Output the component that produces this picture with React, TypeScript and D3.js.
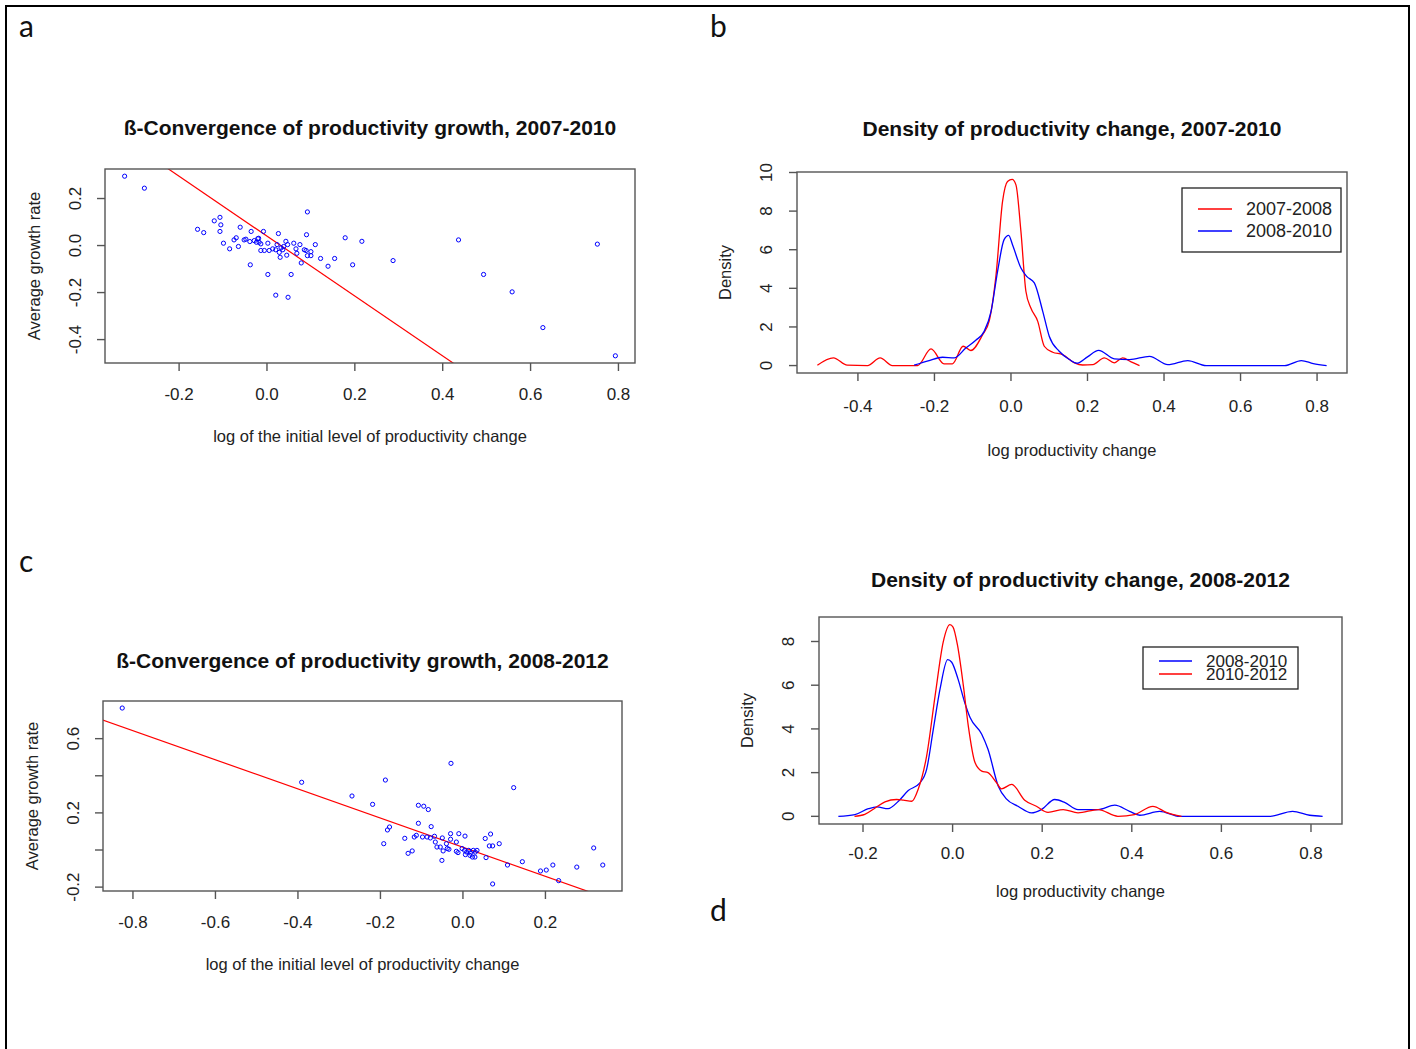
import React from "react";
import * as d3 from "d3";

// ---- panel a: beta-convergence 2007-2010, [initial level, avg growth]
const convA: [number, number][] = [
  [-0.324, 0.295], [-0.279, 0.244], [0.092, 0.143], [-0.107, 0.12], [-0.12, 0.105],
  [-0.105, 0.088], [-0.158, 0.069], [-0.144, 0.055], [-0.107, 0.06], [-0.061, 0.078],
  [-0.036, 0.06], [-0.008, 0.06], [0.026, 0.051], [0.09, 0.046], [0.178, 0.033],
  [0.216, 0.018], [-0.099, 0.01], [-0.085, -0.014], [-0.065, -0.004], [-0.075, 0.024],
  [-0.07, 0.033], [-0.052, 0.024], [-0.048, 0.027], [-0.039, 0.017], [-0.029, 0.021],
  [-0.021, 0.029], [-0.018, 0.014], [-0.014, 0.007], [0.002, 0.01], [0.023, 0.004],
  [0.043, 0.018], [0.047, 0.004], [0.061, 0.01], [0.075, 0.004], [0.11, 0.004],
  [-0.014, -0.021], [-0.006, -0.021], [0.005, -0.021], [0.013, -0.014], [0.02, -0.018],
  [0.028, -0.029], [0.036, -0.018], [0.066, -0.014], [0.068, -0.033], [0.085, -0.018],
  [0.089, -0.021], [0.1, -0.026], [0.092, -0.043], [0.1, -0.043], [0.045, -0.041],
  [0.03, -0.05], [0.122, -0.055], [0.154, -0.055], [0.078, -0.074], [0.139, -0.088],
  [0.195, -0.082], [0.287, -0.064], [-0.038, -0.082], [0.002, -0.123], [0.055, -0.123],
  [0.02, -0.211], [0.048, -0.22], [0.436, 0.024], [0.493, -0.123], [0.558, -0.197],
  [0.628, -0.349], [0.752, 0.006], [0.793, -0.469], [-0.024, 0.014], [-0.019, 0.031],
  [0.032, -0.01], [0.038, -0.004],
];
const fitA = { intercept: 0.04, slope: -1.274 };
const ticksAX = [-0.2, 0, 0.2, 0.4, 0.6, 0.8];
const ticksAY = [-0.4, -0.2, 0, 0.2];

// ---- panel c: beta-convergence 2008-2012
const convC: [number, number][] = [
  [-0.826, 0.765], [-0.391, 0.365], [-0.269, 0.291], [-0.219, 0.246], [-0.188, 0.377],
  [-0.029, 0.467], [0.123, 0.336], [-0.108, 0.241], [-0.095, 0.236], [-0.084, 0.218],
  [-0.108, 0.144], [-0.077, 0.126], [-0.178, 0.124], [-0.183, 0.108], [-0.192, 0.034],
  [-0.141, 0.063], [-0.118, 0.07], [-0.113, 0.079], [-0.133, -0.018], [-0.123, -0.005],
  [-0.098, 0.07], [-0.087, 0.07], [-0.079, 0.065], [-0.069, 0.074], [-0.067, 0.043],
  [-0.063, 0.016], [-0.055, 0.016], [-0.05, 0.065], [-0.048, -0.005], [-0.051, -0.056],
  [-0.04, 0.034], [-0.038, 0.008], [-0.034, 0.004], [-0.03, 0.088], [-0.03, 0.058],
  [-0.016, 0.043], [-0.01, 0.088], [0.005, 0.075], [-0.016, -0.007], [-0.012, -0.014],
  [-0.002, 0.008], [0.004, -0.002], [0.009, -0.011], [0.014, -0.002], [0.018, -0.016],
  [0.025, -0.002], [0.03, -0.011], [0.034, -0.002], [0.006, -0.025], [0.017, -0.029],
  [0.023, -0.038], [0.029, -0.038], [0.054, 0.062], [0.067, 0.086], [0.064, 0.022],
  [0.072, 0.022], [0.088, 0.034], [0.056, -0.041], [0.072, -0.183], [0.108, -0.081],
  [0.144, -0.063], [0.188, -0.113], [0.202, -0.108], [0.218, -0.081], [0.232, -0.165],
  [0.276, -0.092], [0.317, 0.011], [0.339, -0.081],
];
const fitC = { intercept: 0.015, slope: -0.785 };
const ticksCX = [-0.8, -0.6, -0.4, -0.2, 0, 0.2];
const ticksCY = [-0.2, 0, 0.2, 0.4, 0.6];
const labelsCY = [-0.2, 0.2, 0.6];

// ---- panel b: densities, [log change, density]
const dens0708: [number, number][] = [
  [-0.506, 0.02], [-0.464, 0.4], [-0.428, 0.02], [-0.375, 0], [-0.342, 0.4], [-0.31, 0],
  [-0.244, 0], [-0.209, 0.86], [-0.175, 0.09], [-0.153, 0.09], [-0.125, 1.0], [-0.105, 0.78],
  [-0.074, 1.6], [-0.057, 2.3], [-0.039, 4.7], [-0.022, 8.5], [-0.009, 9.53], [0.003, 9.64],
  [0.013, 9.36], [0.026, 6.95], [0.039, 3.85], [0.052, 2.98], [0.07, 2.29], [0.087, 1.0],
  [0.109, 0.69], [0.135, 0.57], [0.166, 0.14], [0.187, 0.03], [0.214, 0.05], [0.244, 0.4],
  [0.27, 0.14], [0.292, 0.4], [0.314, 0.19], [0.336, 0.0],
];
const dens0810b: [number, number][] = [
  [-0.253, 0.02], [-0.214, 0.26], [-0.179, 0.43], [-0.148, 0.4], [-0.118, 0.91], [-0.092, 1.31],
  [-0.07, 1.77], [-0.052, 2.81], [-0.035, 4.88], [-0.018, 6.52], [-0.006, 6.74], [0.004, 6.26],
  [0.026, 5.05], [0.041, 4.62], [0.061, 4.28], [0.083, 2.81], [0.1, 1.52], [0.126, 0.74],
  [0.153, 0.31], [0.172, 0.12], [0.2, 0.45], [0.229, 0.79], [0.27, 0.35], [0.31, 0.31],
  [0.362, 0.48], [0.41, 0.05], [0.462, 0.26], [0.51, 0], [0.715, 0], [0.759, 0.26],
  [0.79, 0.1], [0.825, 0],
];
const ticksBX = [-0.4, -0.2, 0, 0.2, 0.4, 0.6, 0.8];
const ticksBY = [0, 2, 4, 6, 8, 10];

// ---- panel d: densities
const dens0810d: [number, number][] = [
  [-0.255, 0], [-0.218, 0.08], [-0.188, 0.35], [-0.169, 0.43], [-0.144, 0.35], [-0.121, 0.69],
  [-0.099, 1.18], [-0.073, 1.53], [-0.058, 2.15], [-0.043, 3.99], [-0.028, 5.83], [-0.011, 7.17],
  [-0.002, 7.05], [0.012, 6.29], [0.027, 5.21], [0.039, 4.52], [0.065, 3.76], [0.079, 3.07],
  [0.102, 1.38], [0.12, 0.8], [0.146, 0.46], [0.176, 0.16], [0.198, 0.31], [0.228, 0.77],
  [0.25, 0.64], [0.28, 0.31], [0.325, 0.31], [0.362, 0.51], [0.395, 0.23], [0.418, 0.05],
  [0.462, 0.23], [0.507, 0], [0.707, 0], [0.759, 0.23], [0.797, 0.05], [0.826, 0],
];
const dens1012: [number, number][] = [
  [-0.219, 0], [-0.196, 0.09], [-0.173, 0.38], [-0.151, 0.66], [-0.125, 0.77], [-0.11, 0.74],
  [-0.091, 0.69], [-0.077, 1.23], [-0.058, 2.76], [-0.039, 5.52], [-0.021, 7.97], [-0.006, 8.77],
  [0.001, 8.66], [0.011, 7.82], [0.024, 5.98], [0.035, 4.14], [0.05, 2.46], [0.065, 2.07],
  [0.079, 2.0], [0.098, 1.54], [0.109, 1.26], [0.132, 1.46], [0.161, 0.74], [0.187, 0.46],
  [0.213, 0.18], [0.247, 0.31], [0.28, 0.16], [0.325, 0.31], [0.369, 0], [0.406, 0.08],
  [0.447, 0.46], [0.477, 0.18], [0.511, 0],
];
const ticksDX = [-0.2, 0, 0.2, 0.4, 0.6, 0.8];
const ticksDY = [0, 2, 4, 6, 8];

const FONT = "'Liberation Sans', Arial, sans-serif";
const AXIS = "#555";

type Box = { x0: number; x1: number; y0: number; y1: number };

// R pads the data range by 4% on each side
function rRange(vals: number[]): [number, number] {
  const [a, b] = d3.extent(vals) as [number, number];
  const p = (b - a) * 0.04;
  return [a - p, b + p];
}

// plain hyphen minus, like R
const fmt = (v: number) => v.toFixed(1);

function Axes(props: {
  box: Box;
  x: d3.ScaleLinear<number, number>;
  y: d3.ScaleLinear<number, number>;
  xTicks: number[];
  yTicks: number[];
  yLabels?: number[];
  yFmt?: (v: number) => string;
  title: string;
  titleY: number;
  xLabel: string;
  yLabel: string;
  xTickY: number;
  xLabelY: number;
  yTickX: number;
  yLabelX: number;
}) {
  const { box, x, y } = props;
  const yl = props.yLabels ?? props.yTicks;
  const yf = props.yFmt ?? fmt;
  const cx = (box.x0 + box.x1) / 2;
  const cy = (box.y0 + box.y1) / 2;
  return (
    <g fontFamily={FONT} fill="#222">
      <rect x={box.x0} y={box.y0} width={box.x1 - box.x0} height={box.y1 - box.y0} fill="none" stroke={AXIS} strokeWidth={1.4} />
      {props.xTicks.map((t) => (
        <g key={"x" + t}>
          <line x1={x(t)} x2={x(t)} y1={box.y1} y2={box.y1 + 8} stroke={AXIS} strokeWidth={1.4} />
          <text x={x(t)} y={props.xTickY} dy="0.35em" textAnchor="middle" fontSize={17}>{fmt(t)}</text>
        </g>
      ))}
      {props.yTicks.map((t) => (
        <g key={"y" + t}>
          <line x1={box.x0 - 8} x2={box.x0} y1={y(t)} y2={y(t)} stroke={AXIS} strokeWidth={1.4} />
          {yl.includes(t) && (
            <text transform={`translate(${props.yTickX},${y(t)}) rotate(-90)`} dy="0.35em" textAnchor="middle" fontSize={17}>
              {yf(t)}
            </text>
          )}
        </g>
      ))}
      <text x={cx} y={props.titleY} dy="0.35em" textAnchor="middle" fontSize={21} fontWeight="bold" fill="#111">{props.title}</text>
      <text x={cx} y={props.xLabelY} dy="0.35em" textAnchor="middle" fontSize={16.5}>{props.xLabel}</text>
      <text transform={`translate(${props.yLabelX},${cy}) rotate(-90)`} dy="0.35em" textAnchor="middle" fontSize={16.5}>{props.yLabel}</text>
    </g>
  );
}

function Scatter(props: {
  id: string;
  box: Box;
  pts: [number, number][];
  fit: { intercept: number; slope: number };
  xTicks: number[];
  yTicks: number[];
  yLabels?: number[];
  title: string;
  titleY: number;
}) {
  const { box, pts, fit } = props;
  const x = d3.scaleLinear().domain(rRange(pts.map((p) => p[0]))).range([box.x0, box.x1]);
  const y = d3.scaleLinear().domain(rRange(pts.map((p) => p[1]))).range([box.y1, box.y0]);
  const [xa, xb] = x.domain();
  const line = d3.line<number>().x((v) => x(v)).y((v) => y(fit.intercept + fit.slope * v));
  return (
    <g>
      <clipPath id={props.id}>
        <rect x={box.x0} y={box.y0} width={box.x1 - box.x0} height={box.y1 - box.y0} />
      </clipPath>
      <g clipPath={`url(#${props.id})`}>
        <path d={line([xa - 1, xb + 1]) ?? ""} stroke="#ff0000" strokeWidth={1.2} fill="none" />
      </g>
      {pts.map((p, i) => (
        <circle key={i} cx={x(p[0])} cy={y(p[1])} r={2.1} fill="none" stroke="#0000ff" strokeWidth={1} />
      ))}
      <Axes
        box={box} x={x} y={y} xTicks={props.xTicks} yTicks={props.yTicks} yLabels={props.yLabels}
        title={props.title} titleY={props.titleY}
        xLabel="log of the initial level of productivity change" yLabel="Average growth rate"
        xTickY={box.y1 + 31} xLabelY={box.y1 + 73} yTickX={box.x0 - 30} yLabelX={box.x0 - 71}
      />
    </g>
  );
}

function Density(props: {
  box: Box;
  series: { name: string; pts: [number, number][]; color: string }[];
  xTicks: number[];
  yTicks: number[];
  title: string;
  titleY: number;
  legend: { x0: number; y0: number; x1: number; y1: number; rowY: number[]; lineX: [number, number]; textX: number; size: number };
  xTickY: number;
  xLabelY: number;
}) {
  const { box, series, legend } = props;
  const all = series.flatMap((s) => s.pts);
  const x = d3.scaleLinear().domain(rRange(all.map((p) => p[0]))).range([box.x0, box.x1]);
  const y = d3.scaleLinear().domain(rRange([0, ...all.map((p) => p[1])])).range([box.y1, box.y0]);
  const line = d3.line<[number, number]>().x((p) => x(p[0])).y((p) => y(p[1])).curve(d3.curveMonotoneX);
  return (
    <g>
      {series.map((s) => (
        <path key={s.name} d={line(s.pts) ?? ""} stroke={s.color} strokeWidth={1.3} fill="none" />
      ))}
      <Axes
        box={box} x={x} y={y} xTicks={props.xTicks} yTicks={props.yTicks} yFmt={(v) => String(v)}
        title={props.title} titleY={props.titleY}
        xLabel="log productivity change" yLabel="Density"
        xTickY={props.xTickY} xLabelY={props.xLabelY} yTickX={box.x0 - 31} yLabelX={box.x0 - 72}
      />
      <g fontFamily={FONT}>
        <rect x={legend.x0} y={legend.y0} width={legend.x1 - legend.x0} height={legend.y1 - legend.y0} fill="none" stroke="#222" strokeWidth={1.3} />
        {series.map((s, i) => (
          <g key={s.name}>
            <line x1={legend.lineX[0]} x2={legend.lineX[1]} y1={legend.rowY[i]} y2={legend.rowY[i]} stroke={s.color} strokeWidth={1.3} />
            <text x={legend.textX} y={legend.rowY[i]} dy="0.35em" fontSize={legend.size} fill="#222">{s.name}</text>
          </g>
        ))}
      </g>
    </g>
  );
}

export default function App() {
  return (
    <svg width={1416} height={1049} style={{ position: "absolute", left: 0, top: 0, background: "#fff" }}>
      <rect x={6} y={6} width={1403} height={1050} fill="#fff" stroke="#000" strokeWidth={2} />
      <g fontFamily="Lato, 'Open Sans', sans-serif" fontSize={30} fill="#111">
        <text x={19} y={37}>a</text>
        <text x={710} y={37}>b</text>
        <text x={19} y={572}>c</text>
        <text x={710} y={921}>d</text>
      </g>
      <Scatter
        id="clipA" box={{ x0: 105, x1: 635, y0: 169, y1: 363 }} pts={convA} fit={fitA}
        xTicks={ticksAX} yTicks={ticksAY}
        title="ß-Convergence of productivity growth, 2007-2010" titleY={128}
      />
      <Scatter
        id="clipC" box={{ x0: 103, x1: 622, y0: 701, y1: 891 }} pts={convC} fit={fitC}
        xTicks={ticksCX} yTicks={ticksCY} yLabels={labelsCY}
        title="ß-Convergence of productivity growth, 2008-2012" titleY={661}
      />
      <Density
        box={{ x0: 797, x1: 1347, y0: 172, y1: 373 }}
        series={[
          { name: "2007-2008", pts: dens0708, color: "#ff0000" },
          { name: "2008-2010", pts: dens0810b, color: "#0000ff" },
        ]}
        xTicks={ticksBX} yTicks={ticksBY}
        title="Density of productivity change, 2007-2010" titleY={129}
        legend={{ x0: 1182, y0: 188, x1: 1341, y1: 252, rowY: [209, 231], lineX: [1198, 1232], textX: 1246, size: 18 }}
        xTickY={406} xLabelY={450}
      />
      <Density
        box={{ x0: 819, x1: 1342, y0: 617, y1: 824 }}
        series={[
          { name: "2008-2010", pts: dens0810d, color: "#0000ff" },
          { name: "2010-2012", pts: dens1012, color: "#ff0000" },
        ]}
        xTicks={ticksDX} yTicks={ticksDY}
        title="Density of productivity change, 2008-2012" titleY={580}
        legend={{ x0: 1143, y0: 647, x1: 1298, y1: 689, rowY: [661, 674], lineX: [1159, 1192], textX: 1206, size: 17 }}
        xTickY={853} xLabelY={891}
      />
    </svg>
  );
}
